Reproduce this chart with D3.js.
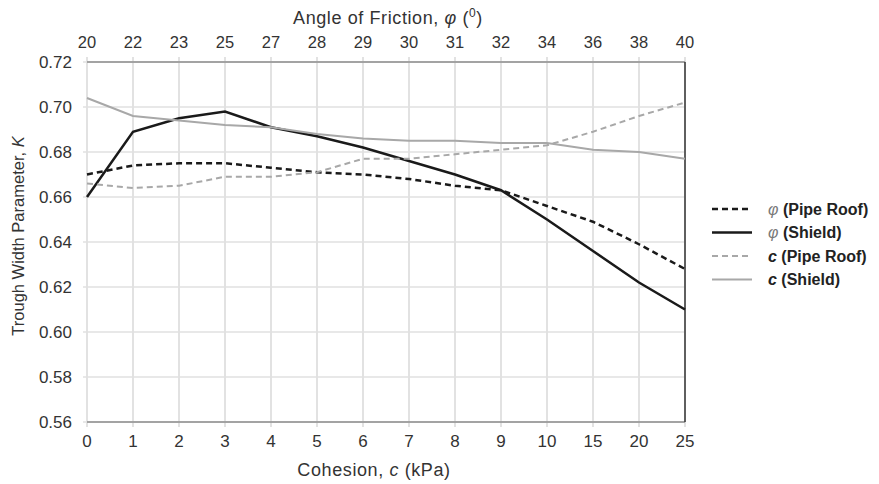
<!DOCTYPE html>
<html lang="en">
<head>
<meta charset="UTF-8">
<title>Trough Width Parameter</title>
<script src="https://d3js.org/d3.v7.min.js"></script>
<style>
  body { margin: 0; background: #fff; }
  .tick-label { font-family: "Liberation Sans", Arial, sans-serif; font-size: 17px; fill: #333; }
  .tick-top { font-size: 16.5px; }
  .axis-title { font-family: "Liberation Sans", Arial, sans-serif; font-size: 18px; letter-spacing: 0.6px; fill: #333; }
  .y-title { font-size: 16.5px; letter-spacing: 0; }
  .legend text { font-family: "Liberation Sans", Arial, sans-serif; font-size: 16px; font-weight: bold; fill: #222; }
</style>
</head>
<body>
<div id="chart"></div>
<script>
// data
const cohesion = ["0", "1", "2", "3", "4", "5", "6", "7", "8", "9", "10", "15", "20", "25"];
const friction = ["20", "22", "23", "25", "27", "28", "29", "30", "31", "32", "34", "36", "38", "40"];
const phiPipeRoof = [0.670, 0.674, 0.675, 0.675, 0.673, 0.671, 0.670, 0.668, 0.665, 0.663, 0.656, 0.649, 0.639, 0.628];
const phiShield   = [0.660, 0.689, 0.695, 0.698, 0.691, 0.687, 0.682, 0.676, 0.670, 0.663, 0.650, 0.636, 0.622, 0.610];
const cPipeRoof   = [0.666, 0.664, 0.665, 0.669, 0.669, 0.671, 0.677, 0.677, 0.679, 0.681, 0.683, 0.689, 0.696, 0.702];
const cShield     = [0.704, 0.696, 0.694, 0.692, 0.691, 0.688, 0.686, 0.685, 0.685, 0.684, 0.684, 0.681, 0.680, 0.677];
const yTicks = [0.56, 0.58, 0.60, 0.62, 0.64, 0.66, 0.68, 0.70, 0.72];

const series = [
  { name: "φ", rest: " (Pipe Roof)", values: phiPipeRoof, color: "#1a1a1a", dash: "6,4", width: 2.5, italic: false },
  { name: "φ", rest: " (Shield)",    values: phiShield,   color: "#1a1a1a", dash: null,  width: 2.5, italic: false },
  { name: "c", rest: " (Pipe Roof)", values: cPipeRoof,   color: "#a8a8a8", dash: "6,4", width: 2,   italic: true },
  { name: "c", rest: " (Shield)",    values: cShield,     color: "#a8a8a8", dash: null,  width: 2,   italic: true }
];

const W = 879, H = 484;
const margin = { top: 62, right: 194, bottom: 62, left: 87 };
const width = W - margin.left - margin.right;
const height = H - margin.top - margin.bottom;

const svg = d3.select("#chart").append("svg")
  .attr("width", W).attr("height", H);
const g = svg.append("g").attr("transform", `translate(${margin.left},${margin.top})`);

// scales
const x = d3.scalePoint().domain(d3.range(cohesion.length)).range([0, width]);
const y = d3.scaleLinear().domain([0.56, 0.72]).range([height, 0]);

// grid
g.selectAll(".vgrid").data(d3.range(cohesion.length)).join("line")
  .attr("x1", d => x(d)).attr("x2", d => x(d))
  .attr("y1", -5).attr("y2", height + 5)
  .attr("stroke", "#d9d9d9").attr("stroke-width", 1.5);
g.selectAll(".hgrid").data(yTicks).join("line")
  .attr("x1", -4).attr("x2", width)
  .attr("y1", d => y(d)).attr("y2", d => y(d))
  .attr("stroke", "#e0e0e0").attr("stroke-width", 1.5);

// frame
g.append("line").attr("x1", 0).attr("x2", width).attr("y1", 0).attr("y2", 0)
  .attr("stroke", "#8c8c8c").attr("stroke-width", 1.5);
g.append("line").attr("x1", 0).attr("x2", width).attr("y1", height).attr("y2", height)
  .attr("stroke", "#8c8c8c").attr("stroke-width", 1.5);
g.append("line").attr("x1", width).attr("x2", width).attr("y1", 0).attr("y2", height)
  .attr("stroke", "#333").attr("stroke-width", 1.5);

// tick labels
g.selectAll(".ylab").data(yTicks).join("text")
  .attr("class", "tick-label")
  .attr("x", -15).attr("y", d => y(d)).attr("dy", "0.35em")
  .attr("text-anchor", "end")
  .text(d => d.toFixed(2));
g.selectAll(".xlab").data(cohesion).join("text")
  .attr("class", "tick-label")
  .attr("x", (d, i) => x(i)).attr("y", height + 25)
  .attr("text-anchor", "middle")
  .text(d => d);
g.selectAll(".tlab").data(friction).join("text")
  .attr("class", "tick-label tick-top")
  .attr("x", (d, i) => x(i)).attr("y", -14)
  .attr("text-anchor", "middle")
  .text(d => d);

// axis titles
const bottomTitle = g.append("text").attr("class", "axis-title")
  .attr("x", width / 2 - 12).attr("y", height + 54).attr("text-anchor", "middle");
bottomTitle.append("tspan").text("Cohesion, ");
bottomTitle.append("tspan").attr("font-style", "italic").text("c");
bottomTitle.append("tspan").text(" (kPa)");

const topTitle = g.append("text").attr("class", "axis-title")
  .attr("x", width / 2 + 2).attr("y", -38).attr("text-anchor", "middle");
topTitle.append("tspan").text("Angle of Friction, ");
topTitle.append("tspan").attr("font-style", "italic").text("φ");
topTitle.append("tspan").text(" (");
topTitle.append("tspan").attr("font-size", "12px").attr("dy", "-7").text("0");
topTitle.append("tspan").attr("dy", "7").text(")");

const yTitle = g.append("text").attr("class", "axis-title y-title")
  .attr("transform", `translate(-63,${height / 2 - 6}) rotate(-90)`)
  .attr("text-anchor", "middle");
yTitle.append("tspan").text("Trough Width Parameter, ");
yTitle.append("tspan").attr("font-style", "italic").text("K");

// lines
const line = d3.line().x((d, i) => x(i)).y(d => y(d));
series.forEach(s => {
  g.append("path")
    .attr("d", line(s.values))
    .attr("fill", "none")
    .attr("stroke", s.color)
    .attr("stroke-width", s.width)
    .attr("stroke-dasharray", s.dash);
});

// legend
const legend = svg.append("g").attr("class", "legend").attr("transform", "translate(712,209)");
series.forEach((s, i) => {
  const row = legend.append("g").attr("transform", `translate(0,${i * 23.5})`);
  row.append("line").attr("x1", 0).attr("x2", 40).attr("y1", 0).attr("y2", 0)
    .attr("stroke", s.color).attr("stroke-width", s.width)
    .attr("stroke-dasharray", s.dash);
  const t = row.append("text").attr("x", 56).attr("dy", "0.35em");
  t.append("tspan").attr("font-style", "italic")
    .attr("font-weight", s.italic ? "bold" : "normal")
    .attr("fill", s.italic ? "#222" : "#777").text(s.name);
  t.append("tspan").text(s.rest);
});
</script>
</body>
</html>
